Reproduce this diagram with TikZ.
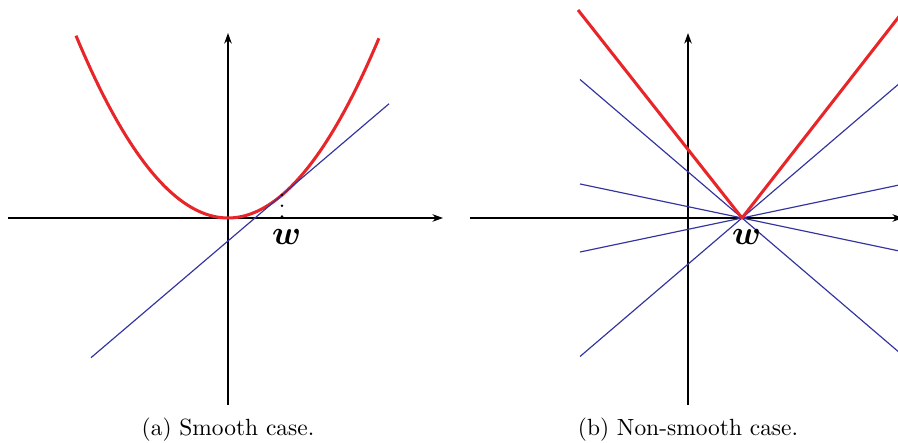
\documentclass[tikz,border=0pt]{standalone}
\usepackage{amsmath,amssymb}
\usepackage{xcolor}
\usepackage{tikz}
\usetikzlibrary{arrows.meta}
\definecolor{fred}{RGB}{232,38,42}
\definecolor{subblue}{RGB}{52,52,160}

\begin{document}
\begin{tikzpicture}[
  x=0.015cm, y=0.015cm,
  axis/.style={-{Stealth[length=4.5pt,width=3.2pt,inset=1.4pt]}, line width=0.6pt},
  fun/.style={fred, line width=1.3pt, line join=round},
  sub/.style={subblue, line width=0.5pt},
  dots/.style={line width=1.2pt, line cap=round, dash pattern=on 0pt off 4.6pt},
  lbl/.style={font=\fontsize{13.5}{16}\selectfont, inner sep=1pt, xshift=2pt}
]
  \clip (-228,-225) rectangle (670,218);
  % (a) smooth case
  \coordinate (oa) at (0,0);
  \coordinate (wa) at (54,0);
  \coordinate (pa) at (54,23);
  \draw[axis] (-220,0) -- (215,0);
  \draw[axis] (0,-187) -- (0,185);
  \draw[fun, domain=-1.52:1.51, samples=80, variable=\t] plot ({100*\t},{78.9*\t*\t});
  \draw[sub] (-137,-139.7) -- (161,114.2);
  \draw[dots] (pa) -- (wa);
  \node[lbl, below=3.7pt] (wlbla) at (wa) {$\boldsymbol{w}$};
  \node (capa) at (0,-212) {(a) Smooth case.};
  % (b) non-smooth case
  \begin{scope}[xshift=6.9cm]
    \coordinate (ob) at (0,0);
    \coordinate (wb) at (54,0);
    \draw[axis] (-218,0) -- (215,0);
    \draw[axis] (0,-187) -- (0,185);
    \foreach \s in {0.855,-0.855,0.21,-0.21}
      \draw[sub] (-108,{162*\s}) -- (wb) -- (214,{-160*\s});
    \draw[fun] (-110,208) -- (wb) -- (213,204);
    \node[lbl, below=3.7pt] (wlblb) at (wb) {$\boldsymbol{w}$};
    \node (capb) at (0,-212) {(b) Non-smooth case.};
  \end{scope}
\end{tikzpicture}
\end{document}
